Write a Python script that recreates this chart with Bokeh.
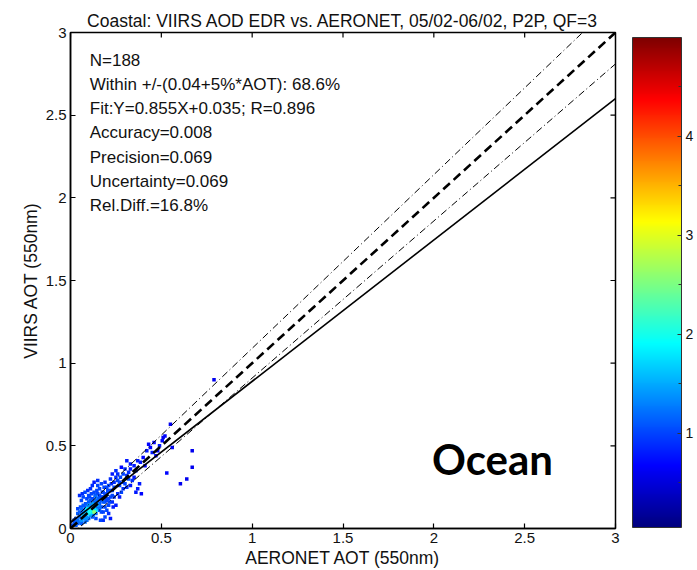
import numpy as np
from bokeh.plotting import figure
from bokeh.models import (ColorBar, LinearColorMapper, FixedTicker, LinearAxis,
                          ColumnDataSource, Range1d, Label)
from bokeh.embed import file_html
from bokeh.resources import INLINE

# ---------------- data ----------------
title_text = "Coastal: VIIRS AOD EDR vs. AERONET, 05/02-06/02, P2P, QF=3"
x_label = "AERONET AOT (550nm)"
y_label = "VIIRS AOT (550nm)"
axis_ticks = [0, 0.5, 1, 1.5, 2, 2.5, 3]
axis_tick_labels = ["0", "0.5", "1", "1.5", "2", "2.5", "3"]
cbar_ticks = [1, 2, 3, 4]
cbar_minor_ticks = [0.5, 1.5, 2.5, 3.5, 4.5]
cbar_low, cbar_high = 0.05, 5.0
stats_lines = [
    "N=188",
    "Within +/-(0.04+5%*AOT): 68.6%",
    "Fit:Y=0.855X+0.035; R=0.896",
    "Accuracy=0.008",
    "Precision=0.069",
    "Uncertainty=0.069",
    "Rel.Diff.=16.8%",
]
region_label = "Ocean"
fit_slope, fit_intercept = 0.855, 0.035
ee_abs, ee_rel = 0.04, 0.05
line_x = [0.0, 3.0]

aeronet_aot = [
    0.79, 0.67, 0.67, 0.64, 0.605, 0.53, 0.505, 0.52, 0.55, 0.56,
    0.49, 0.43, 0.42, 0.45, 0.47, 0.385, 0.36, 0.38, 0.37, 0.36,
    0.39, 0.34, 0.33, 0.31, 0.30, 0.29, 0.275, 0.25, 0.26, 0.27,
    0.30, 0.32, 0.28, 0.31, 0.24, 0.26, 0.29, 0.31, 0.33, 0.35,
    0.37, 0.40, 0.41, 0.44, 0.46, 0.48, 0.51, 0.35, 0.33, 0.29,
    0.27, 0.32, 0.02, 0.03, 0.04, 0.05, 0.05, 0.06, 0.06, 0.07,
    0.07, 0.08, 0.08, 0.09, 0.09, 0.10, 0.10, 0.10, 0.11, 0.11,
    0.11, 0.12, 0.12, 0.12, 0.13, 0.13, 0.13, 0.14, 0.14, 0.14,
    0.15, 0.15, 0.15, 0.16, 0.16, 0.16, 0.17, 0.17, 0.18, 0.18,
    0.18, 0.19, 0.19, 0.20, 0.20, 0.21, 0.21, 0.22, 0.23, 0.23,
    0.24, 0.25, 0.05, 0.06, 0.08, 0.083, 0.10, 0.11, 0.13, 0.13,
    0.15, 0.15, 0.16, 0.19, 0.04, 0.03, 0.02, 0.06, 0.08, 0.09,
    0.10, 0.12, 0.14, 0.165, 0.19, 0.21, 0.22, 0.18, 0.07, 0.09,
    0.09, 0.11, 0.12, 0.14, 0.15, 0.17, 0.18, 0.20, 0.22, 0.24,
    0.26, 0.27, 0.25, 0.23, 0.28, 0.22, 0.20, 0.17, 0.12, 0.07,
    0.04, 0.05, 0.06, 0.08, 0.10, 0.12, 0.13, 0.14, 0.16, 0.17,
    0.19, 0.21, 0.23, 0.07, 0.09, 0.11, 0.04, 0.01, 0.03, 0.055,
    0.065, 0.095, 0.105, 0.115, 0.135, 0.145, 0.155, 0.175, 0.185, 0.195,
    0.205, 0.215, 0.225, 0.235, 0.125, 0.105, 0.145, 0.085,
]
viirs_aot = [
    0.90, 0.47, 0.37, 0.30, 0.27, 0.335, 0.53, 0.56, 0.63, 0.49,
    0.50, 0.51, 0.47, 0.46, 0.44, 0.40, 0.35, 0.27, 0.24, 0.22,
    0.21, 0.29, 0.39, 0.41, 0.36, 0.33, 0.31, 0.35, 0.29, 0.26,
    0.27, 0.30, 0.22, 0.25, 0.25, 0.33, 0.28, 0.32, 0.36, 0.38,
    0.41, 0.43, 0.38, 0.49, 0.52, 0.47, 0.55, 0.31, 0.26, 0.24,
    0.28, 0.34, 0.03, 0.02, 0.05, 0.04, 0.07, 0.05, 0.09, 0.06,
    0.11, 0.08, 0.13, 0.07, 0.10, 0.09, 0.12, 0.16, 0.08, 0.11,
    0.14, 0.10, 0.13, 0.18, 0.10, 0.12, 0.16, 0.09, 0.14, 0.19,
    0.12, 0.17, 0.21, 0.11, 0.15, 0.24, 0.13, 0.19, 0.10, 0.16,
    0.22, 0.13, 0.20, 0.11, 0.17, 0.26, 0.14, 0.19, 0.16, 0.23,
    0.19, 0.14, 0.20, 0.17, 0.22, 0.15, 0.20, 0.24, 0.22, 0.28,
    0.26, 0.29, 0.20, 0.28, 0.09, 0.06, 0.05, 0.03, 0.04, 0.05,
    0.06, 0.07, 0.06, 0.05, 0.07, 0.09, 0.06, 0.05, 0.14, 0.15,
    0.18, 0.17, 0.15, 0.17, 0.14, 0.17, 0.19, 0.21, 0.23, 0.28,
    0.21, 0.19, 0.31, 0.33, 0.37, 0.30, 0.25, 0.27, 0.26, 0.19,
    0.12, 0.10, 0.12, 0.10, 0.14, 0.11, 0.14, 0.11, 0.13, 0.10,
    0.16, 0.18, 0.20, 0.08, 0.12, 0.09, 0.03, 0.02, 0.04, 0.13,
    0.21, 0.23, 0.19, 0.21, 0.20, 0.23, 0.18, 0.22, 0.25, 0.18,
    0.23, 0.16, 0.27, 0.13, 0.08, 0.10, 0.15, 0.06,
]
density = [
    0.6, 0.6, 0.6, 0.6, 0.6, 0.7, 0.7, 0.7, 0.6, 0.7,
    0.8, 0.7, 0.8, 0.8, 0.7, 0.8, 0.9, 0.8, 0.8, 0.8,
    0.7, 0.9, 0.8, 0.8, 0.9, 1.0, 1.0, 0.9, 1.0, 1.0,
    1.0, 1.0, 1.0, 0.9, 1.0, 0.9, 0.9, 0.9, 0.8, 0.8,
    0.8, 0.7, 0.7, 0.7, 0.7, 0.7, 0.6, 0.8, 0.8, 0.9,
    1.0, 0.9, 1.1, 1.1, 1.2, 1.2, 1.2, 1.4, 1.2, 1.4,
    1.1, 1.4, 1.1, 1.4, 1.6, 1.8, 1.6, 1.1, 1.4, 2.0,
    1.2, 1.8, 1.4, 1.0, 2.6, 1.6, 1.1, 1.2, 1.4, 1.2,
    1.2, 1.1, 1.0, 1.1, 1.1, 1.0, 1.0, 1.0, 1.0, 1.1,
    1.0, 1.0, 1.0, 1.0, 1.0, 1.0, 1.0, 1.0, 0.9, 1.0,
    0.9, 0.8, 0.9, 1.0, 1.0, 1.0, 1.0, 0.9, 1.0, 0.8,
    1.0, 0.9, 1.0, 0.9, 1.1, 1.0, 1.0, 1.1, 1.2, 1.2,
    1.2, 1.1, 1.0, 1.0, 1.0, 0.9, 0.8, 0.9, 1.1, 1.1,
    1.0, 1.1, 1.4, 1.2, 1.4, 1.1, 1.0, 1.0, 1.0, 0.9,
    0.9, 0.8, 0.9, 0.8, 0.7, 0.9, 1.0, 1.0, 0.9, 1.0,
    1.0, 1.1, 1.2, 1.6, 1.4, 2.0, 1.6, 1.8, 1.2, 1.0,
    1.0, 1.0, 1.0, 1.6, 1.8, 1.6, 1.1, 1.0, 1.1, 1.0,
    0.9, 0.9, 1.0, 1.0, 1.1, 1.0, 1.1, 1.0, 1.0, 1.0,
    1.0, 1.0, 0.9, 0.8, 1.2, 2.0, 1.4, 1.4,
]

# ---------------- palette (MATLAB jet) ----------------
def jet_palette(n=256):
    cols = []
    for i in range(n):
        t = i / (n - 1)
        r = min(max(1.5 - abs(4 * t - 3), 0), 1)
        g = min(max(1.5 - abs(4 * t - 2), 0), 1)
        b = min(max(1.5 - abs(4 * t - 1), 0), 1)
        cols.append("#%02x%02x%02x" % (int(r * 255), int(g * 255), int(b * 255)))
    return cols

jet = jet_palette()
mapper = LinearColorMapper(palette=jet, low=cbar_low, high=cbar_high)

order = np.argsort(np.array(density), kind="stable")
src = ColumnDataSource(dict(
    x=np.array(aeronet_aot)[order],
    y=np.array(viirs_aot)[order],
    d=np.array(density)[order],
))

FONT = "Liberation Sans"
X0, X1, Y0, Y1 = 0, 3, 0, 3

p = figure(width=697, height=570, output_backend="svg", toolbar_location=None,
           x_range=Range1d(X0, X1), y_range=Range1d(Y0, Y1),
           min_border_left=70, min_border_right=82, min_border_top=32,
           min_border_bottom=42, x_axis_location=None, y_axis_location=None)
p.background_fill_color = "white"
p.border_fill_color = "white"
p.outline_line_color = "black"
p.outline_line_width = 1.5
p.grid.visible = False

p.title.text = title_text
p.title.align = "center"
p.title.text_font = FONT
p.title.text_font_size = "17.5px"
p.title.text_font_style = "normal"
p.title.text_color = "#111111"
p.title.standoff = 4
p.title.offset = 0

tick_overrides = {t: s for t, s in zip(axis_ticks, axis_tick_labels)}

def make_axis(label):
    ax = LinearAxis(ticker=FixedTicker(ticks=axis_ticks, minor_ticks=[]))
    ax.major_label_overrides = tick_overrides
    ax.axis_line_color = "black"
    ax.axis_line_width = 1.5
    ax.major_tick_in = 5
    ax.major_tick_out = 0
    ax.major_tick_line_width = 1.2
    ax.minor_tick_line_color = None
    ax.major_label_text_font = FONT
    ax.major_label_text_font_size = "15px"
    ax.major_label_text_color = "#111111"
    ax.major_label_standoff = 4
    ax.axis_label = label
    ax.axis_label_text_font = FONT
    ax.axis_label_text_font_size = "17.5px"
    ax.axis_label_text_font_style = "normal"
    ax.axis_label_text_color = "#111111"
    ax.axis_label_standoff = 2
    return ax

p.add_layout(make_axis(x_label), "below")
p.add_layout(make_axis(y_label), "left")

# inward tick marks on the top and right frame edges (MATLAB box on)
tick_arr = np.array(axis_ticks, dtype=float)
tick_len_x = 5 / 545 * (X1 - X0)
tick_len_y = 5 / 496 * (Y1 - Y0)
p.segment(x0=tick_arr, y0=np.full_like(tick_arr, Y1), x1=tick_arr,
          y1=np.full_like(tick_arr, Y1 - tick_len_y), line_color="black", line_width=1.2)
p.segment(x0=np.full_like(tick_arr, X1), y0=tick_arr, x1=np.full_like(tick_arr, X1 - tick_len_x),
          y1=tick_arr, line_color="black", line_width=1.2)

# scatter points
p.scatter("x", "y", source=src, marker="square", size=3.5,
          fill_color={"field": "d", "transform": mapper}, line_color=None)

# reference lines
lx = np.array(line_x)
p.line(lx, lx, line_color="black", line_width=2.6, line_dash="9 5")
p.line(lx, lx + (ee_abs + ee_rel * lx), line_color="black", line_width=1,
       line_dash="7 3 1 3")
p.line(lx, lx - (ee_abs + ee_rel * lx), line_color="black", line_width=1,
       line_dash="7 3 1 3")
p.line(lx, fit_slope * lx + fit_intercept, line_color="black", line_width=1.6)

# statistics text
for i, s in enumerate(stats_lines):
    p.add_layout(Label(x=0.106, y=2.832 - i * 0.1464, text=s,
                       text_font=FONT, text_font_size="17px",
                       text_color="#111111", text_baseline="alphabetic"))

p.add_layout(Label(x=1.99, y=0.42, text=region_label, text_font="Lato",
                   text_font_size="42px", text_font_style="bold",
                   text_color="black", text_baseline="alphabetic"))

cbar = ColorBar(color_mapper=mapper, width=49, height=490,
                ticker=FixedTicker(ticks=cbar_ticks, minor_ticks=cbar_minor_ticks),
                major_label_text_font=FONT, major_label_text_font_size="14px",
                major_label_text_color="#111111", label_standoff=4,
                major_tick_line_color="#333333", major_tick_in=4, major_tick_out=0,
                minor_tick_line_color="#333333", minor_tick_in=3, minor_tick_out=0,
                bar_line_color="#333333", padding=0, margin=0, location=(17, 1),
                background_fill_color="white", border_line_color=None)
p.add_layout(cbar, "right")

open("out.html", "w").write(file_html(p, INLINE))
